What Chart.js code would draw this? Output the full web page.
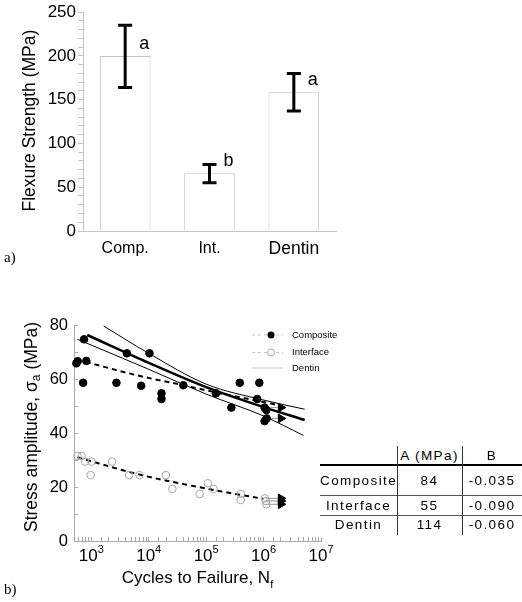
<!DOCTYPE html>
<html>
<head>
<meta charset="utf-8">
<script src="https://cdn.jsdelivr.net/npm/chart.js@4.4.1/dist/chart.umd.min.js"></script>
<style>
  body { margin: 0; background: #fff; width: 522px; height: 602px; position: relative; overflow: hidden; }
  #boxA { position: absolute; left: 0; top: 0; width: 340px; height: 265px; }
  #boxB { position: absolute; left: 0; top: 300px; width: 360px; height: 302px; }
  .rot { position: absolute; font-family: 'Liberation Serif', serif; font-size: 15px; color: #000; }
  #tabela { position: absolute; left: 0; top: 0; font-family: 'Liberation Sans', Arial, sans-serif; font-size: 13.5px; letter-spacing: 1.4px; color: #000; }
  #tabela div { position: absolute; }
</style>
</head>
<body>
<div id="boxA"><canvas id="chartA"></canvas></div>
<div id="boxB"><canvas id="chartB"></canvas></div>
<div class="rot" style="left:4px; top:249px;">a)</div>
<div class="rot" style="left:4px; top:581px;">b)</div>
<div id="tabela"></div>
<script>
// ---- painel a: resistencia a flexao
var categorias = ['Comp.', 'Int.', 'Dentin'];
var resistencia = [200, 66, 159];
var erroMin = [164, 55, 137];
var erroMax = [235, 76, 180];
var letras = ['a', 'b', 'a'];

// ---- painel b: fadiga (N ciclos, tensao MPa)
var compN = [550, 580, 748, 720, 820, 2740, 4170, 7380, 10300, 16700, 16700, 40000, 148000, 275000, 385000, 843000, 776000, 1040000, 1120000, 1040000, 1130000];
var compS = [65.8, 66.6, 74.7, 58.6, 66.7, 58.6, 69.5, 57.5, 69.5, 54.7, 52.6, 57.7, 54.7, 49.4, 58.6, 58.6, 52.6, 49.4, 48.5, 44.4, 45.4];
var interN = [575, 680, 780, 1010, 975, 2300, 4570, 6890, 19900, 25800, 77000, 107000, 135000, 400000, 400000, 1050000, 1100000, 1120000];
var interS = [31.5, 31.5, 29.4, 29.4, 24.4, 29.4, 24.4, 24.4, 24.4, 19.3, 17.4, 21.4, 19.3, 17.4, 15.2, 15.8, 14.8, 13.6];

// curvas ajustadas
var compAjN = [800, 7400, 40000, 150000, 1000000, 2100000];
var compAjS = [66.3, 61, 57.7, 55, 51.5, 50];
var interAjN = [575, 6900, 107000, 1000000];
var interAjS = [31, 24.6, 19.3, 15.6];
var dentinN = [850, 10000, 100000, 1000000, 5200000];
var dentinS = [76.3, 66, 57, 49.6, 44.8];
var dentinSupN = [1650, 10000, 100000, 1000000, 5200000];
var dentinSupS = [79.6, 69.5, 58.1, 52.2, 48.8];
var dentinInfN = [575, 10000, 100000, 1000000, 4950000];
var dentinInfS = [74.7, 63.6, 54.4, 46.3, 39.1];

// corpos que nao romperam (setas)
var compRunS = [49.4, 45.4];
var interRunS = [15.8, 14.8, 13.6];
var runInicio = 1080000, runFim = 2000000;

var expoentes = [3, 4, 5, 6, 7];

// tabela
var tabNomes = ['Composite', 'Interface', 'Dentin'];
var tabA = ['84', '55', '114'];
var tabB = ['-0.035', '-0.090', '-0.060'];

var fonte = "'Liberation Sans', Arial, sans-serif";
Chart.defaults.font.family = fonte;
Chart.defaults.color = '#000';

function pares(xs, ys) {
  return xs.map(function (x, i) { return { x: x, y: ys[i] }; });
}

// ---------------- painel a
var extrasA = {
  id: 'extrasA',
  afterDatasetsDraw: function (chart) {
    var ctx = chart.ctx, xs = chart.scales.x, ys = chart.scales.y;
    ctx.save();
    ctx.strokeStyle = '#000';
    ctx.lineWidth = 3;
    for (var i = 0; i < categorias.length; i++) {
      var x = xs.getPixelForValue(i);
      var y1 = ys.getPixelForValue(erroMax[i]), y2 = ys.getPixelForValue(erroMin[i]);
      ctx.beginPath();
      ctx.moveTo(x, y1); ctx.lineTo(x, y2);
      ctx.moveTo(x - 7, y1); ctx.lineTo(x + 7, y1);
      ctx.moveTo(x - 7, y2); ctx.lineTo(x + 7, y2);
      ctx.stroke();
      ctx.fillStyle = '#000';
      ctx.font = '18px ' + fonte;
      ctx.textAlign = 'center';
      ctx.textBaseline = 'middle';
      ctx.fillText(letras[i], x + 19, ys.getPixelForValue(resistencia[i]) - 12);
    }
    // titulo do eixo y
    ctx.translate(30, (chart.chartArea.top + chart.chartArea.bottom) / 2 - 1);
    ctx.rotate(-Math.PI / 2);
    ctx.font = '17.5px ' + fonte;
    ctx.fillText('Flexure Strength (MPa)', 0, 0);
    ctx.restore();
  }
};

new Chart(document.getElementById('chartA'), {
  type: 'bar',
  data: {
    labels: categorias,
    datasets: [{
      data: resistencia,
      backgroundColor: '#fff',
      borderColor: '#c4c4c4',
      borderWidth: 1,
      barPercentage: 0.6,
      categoryPercentage: 1
    }]
  },
  options: {
    responsive: true,
    maintainAspectRatio: false,
    animation: false,
    devicePixelRatio: 1,
    layout: { padding: { top: 8, right: 4, left: 0, bottom: 0 } },
    plugins: { legend: { display: false }, tooltip: { enabled: false } },
    scales: {
      x: {
        afterFit: function (s) { s.height = 34; },
        grid: { drawOnChartArea: false, drawTicks: false },
        border: { color: '#c4c4c4' },
        ticks: {
          padding: 8,
          font: function (c) { return { size: c.index === 2 ? 17.5 : 16 }; }
        }
      },
      y: {
        min: 0, max: 250,
        afterFit: function (s) { s.width = 83; },
        grid: { drawOnChartArea: false, tickLength: 5, color: '#c4c4c4' },
        border: { color: '#c4c4c4' },
        ticks: {
          stepSize: 10, autoSkip: false, padding: 2,
          font: { size: 17 },
          callback: function (v) { return v % 50 === 0 ? v : ''; }
        }
      }
    }
  },
  plugins: [extrasA]
});

// ---------------- painel b
var extrasB = {
  id: 'extrasB',
  afterDraw: function (chart) {
    var ctx = chart.ctx, xs = chart.scales.x, a = chart.chartArea;
    ctx.save();
    ctx.fillStyle = '#000';
    // rotulos 10^n
    ctx.textBaseline = 'alphabetic';
    ctx.textAlign = 'left';
    expoentes.forEach(function (e) {
      var px = xs.getPixelForValue(Math.pow(10, e));
      ctx.font = '17px ' + fonte;
      var w1 = ctx.measureText('10').width;
      ctx.font = '11px ' + fonte;
      var w2 = ctx.measureText(String(e)).width;
      var x0 = px - (w1 + w2) / 2;
      ctx.font = '17px ' + fonte;
      ctx.fillText('10', x0, a.bottom + 20);
      ctx.font = '11px ' + fonte;
      ctx.fillText(String(e), x0 + w1, a.bottom + 12);
    });
    // titulo x com subscrito
    ctx.font = '17px ' + fonte;
    var t1 = 'Cycles to Failure, N';
    var wt = ctx.measureText(t1).width;
    ctx.font = '11px ' + fonte;
    var ws = ctx.measureText('f').width;
    var xt = (a.left + a.right) / 2 - (wt + ws) / 2;
    ctx.font = '17px ' + fonte;
    ctx.fillText(t1, xt, a.bottom + 42);
    ctx.font = '11px ' + fonte;
    ctx.fillText('f', xt + wt, a.bottom + 47);
    // titulo y com subscrito
    ctx.translate(32, (a.top + a.bottom) / 2 - 6);
    ctx.rotate(-Math.PI / 2);
    var p1 = 'Stress amplitude, \u03c3', p2 = 'a', p3 = ' (MPa)';
    ctx.font = '17.5px ' + fonte;
    var w1 = ctx.measureText(p1).width, w3 = ctx.measureText(p3).width;
    ctx.font = '12px ' + fonte;
    var w2 = ctx.measureText(p2).width;
    var x0 = -(w1 + w2 + w3) / 2;
    ctx.textBaseline = 'middle';
    ctx.font = '17.5px ' + fonte;
    ctx.fillText(p1, x0, 0);
    ctx.font = '12px ' + fonte;
    ctx.fillText(p2, x0 + w1, 5);
    ctx.font = '17.5px ' + fonte;
    ctx.fillText(p3, x0 + w1 + w2, 0);
    ctx.restore();

    // legenda
    ctx.save();
    ctx.font = '9.5px ' + fonte;
    ctx.textBaseline = 'middle';
    ctx.fillStyle = '#000';
    var itens = [
      { y: 35, txt: 'Composite', tipo: 'cheio' },
      { y: 52.5, txt: 'Interface', tipo: 'vazio' },
      { y: 68, txt: 'Dentin', tipo: 'linha' }
    ];
    itens.forEach(function (it) {
      ctx.strokeStyle = '#c8c8c8';
      ctx.lineWidth = 1;
      ctx.setLineDash(it.tipo === 'linha' ? [] : [3, 3]);
      ctx.beginPath();
      ctx.moveTo(252, it.y); ctx.lineTo(283, it.y);
      ctx.stroke();
      ctx.setLineDash([]);
      if (it.tipo === 'cheio') {
        ctx.beginPath(); ctx.arc(271, it.y, 3.5, 0, 2 * Math.PI);
        ctx.fillStyle = '#000'; ctx.fill();
      } else if (it.tipo === 'vazio') {
        ctx.beginPath(); ctx.arc(271, it.y, 3.5, 0, 2 * Math.PI);
        ctx.fillStyle = '#fff'; ctx.fill();
        ctx.strokeStyle = '#aaa'; ctx.stroke();
      }
      ctx.fillStyle = '#000';
      ctx.fillText(it.txt, 292, it.y);
    });
    ctx.restore();
  }
};

function seta(s) {
  return {
    data: [{ x: runInicio, y: s }, { x: runFim, y: s }],
    showLine: true,
    borderColor: '#999',
    borderWidth: 1,
    pointRadius: [0, 5],
    pointStyle: 'triangle',
    rotation: 90,
    pointBackgroundColor: '#000',
    pointBorderColor: '#000',
    clip: false,
    order: 5
  };
}

var linhaBase = { showLine: true, pointRadius: 0, borderColor: '#000', clip: false, cubicInterpolationMode: 'monotone' };

var conjuntos = [
  { data: pares(compN, compS), pointRadius: 3.8, pointBackgroundColor: '#000', pointBorderColor: '#000', clip: false, order: 0 },
  { data: pares(interN, interS), pointRadius: 3.8, pointBackgroundColor: 'rgba(255,255,255,0)', pointBorderColor: '#a8a8a8', pointBorderWidth: 1, clip: false, order: 1 },
  Object.assign({}, linhaBase, { data: pares(compAjN, compAjS), borderWidth: 2, borderDash: [5, 4], order: 3 }),
  Object.assign({}, linhaBase, { data: pares(interAjN, interAjS), borderWidth: 2, borderDash: [5, 4], order: 3 }),
  Object.assign({}, linhaBase, { data: pares(dentinN, dentinS), borderWidth: 2.5, order: 2 }),
  Object.assign({}, linhaBase, { data: pares(dentinSupN, dentinSupS), borderWidth: 1, order: 4 }),
  Object.assign({}, linhaBase, { data: pares(dentinInfN, dentinInfS), borderWidth: 1, order: 4 })
].concat(compRunS.map(seta)).concat(interRunS.map(seta));

new Chart(document.getElementById('chartB'), {
  type: 'scatter',
  data: { datasets: conjuntos },
  options: {
    responsive: true,
    maintainAspectRatio: false,
    animation: false,
    devicePixelRatio: 1,
    layout: { padding: { top: 25, right: 39, left: 0, bottom: 0 } },
    plugins: { legend: { display: false }, tooltip: { enabled: false } },
    scales: {
      x: {
        type: 'logarithmic',
        min: 500, max: 10000000,
        afterFit: function (s) { s.height = 61; },
        grid: { drawOnChartArea: false, tickLength: -4, color: '#aaa' },
        border: { color: '#aaa' },
        ticks: { autoSkip: false, callback: function () { return ''; } }
      },
      y: {
        min: 0, max: 80,
        afterFit: function (s) { s.width = 74; },
        grid: { drawOnChartArea: false, tickLength: -4, color: '#aaa' },
        border: { color: '#aaa' },
        ticks: {
          stepSize: 10, autoSkip: false, padding: 10,
          font: { size: 16.5 },
          callback: function (v) { return v % 20 === 0 ? v : ''; }
        }
      }
    }
  },
  plugins: [extrasB]
});

// ---------------- tabela
var tab = document.getElementById('tabela');
function caixa(css, txt) {
  var d = document.createElement('div');
  d.style.cssText = css;
  if (txt) d.textContent = txt;
  tab.appendChild(d);
}
var colX = [320, 397, 462, 522];
var linhaY = [446, 465, 496, 515, 535];
caixa('left:' + colX[1] + 'px;top:446px;width:' + (colX[2] - colX[1]) + 'px;text-align:center;line-height:19px;', 'A (MPa)');
caixa('left:' + colX[2] + 'px;top:446px;width:' + (colX[3] - colX[2]) + 'px;text-align:center;line-height:19px;', 'B');
tabNomes.forEach(function (nome, i) {
  var y0 = linhaY[i + 1], h = linhaY[i + 2] - y0;
  var lh = 'top:' + y0 + 'px;height:' + h + 'px;line-height:' + h + 'px;text-align:center;';
  caixa('left:' + colX[0] + 'px;width:' + (colX[1] - colX[0]) + 'px;' + lh, nome);
  caixa('left:' + colX[1] + 'px;width:' + (colX[2] - colX[1]) + 'px;' + lh, tabA[i]);
  caixa('left:' + colX[2] + 'px;width:' + (colX[3] - colX[2]) + 'px;' + lh, tabB[i]);
});
caixa('left:320px;top:464px;width:202px;height:2px;background:#000;');
caixa('left:320px;top:495px;width:202px;height:1px;background:#555;');
caixa('left:320px;top:515px;width:202px;height:1px;background:#555;');
caixa('left:' + colX[1] + 'px;top:446px;width:1px;height:89px;background:#333;');
caixa('left:' + colX[2] + 'px;top:446px;width:1px;height:89px;background:#333;');
</script>
</body>
</html>
